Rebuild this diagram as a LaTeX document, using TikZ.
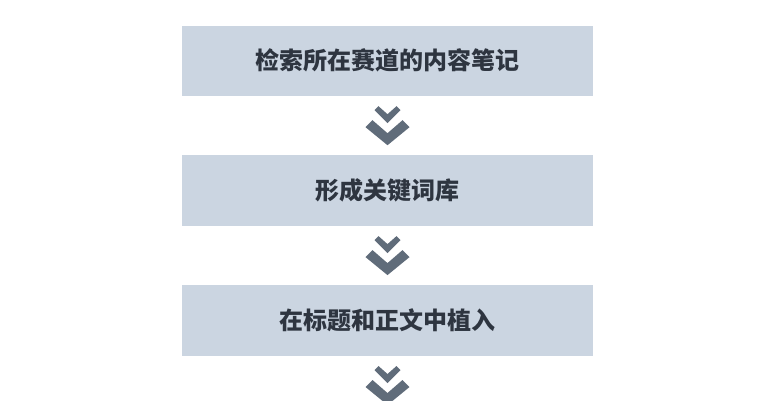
\documentclass[tikz,border=0pt]{standalone}
\usepackage{fontspec}
\newfontfamily\cjk{Noto Sans CJK SC}
\usetikzlibrary{positioning}
\definecolor{boxfill}{RGB}{203,213,225}
\definecolor{chevgray}{RGB}{96,108,122}
\definecolor{textdark}{RGB}{46,53,64}
\tikzset{
  stepbox/.style={fill=boxfill, minimum width=411bp, minimum height=70.5bp, inner sep=0pt,
    text=textdark, font=\cjk\bfseries\fontsize{24bp}{28bp}\selectfont},
  chevron/.pic={
    \fill[chevgray] (-13,-15.5) -- (-9,-19.5) -- (0,-11.5) -- (9,-19.5) -- (13,-15.5) -- (0,-2.5) -- cycle;
    \fill[chevgray] (-22,1.5) -- (-15,-5.5) -- (0,7.5) -- (15,-5.5) -- (22,1.5) -- (0,19.5) -- cycle;
  }
}
\begin{document}
\begin{tikzpicture}[x=1bp, y=-1bp]
  \useasboundingbox[fill=white] (0,0) rectangle (776,400);
  \node[stepbox] (b1) at (387.5,60.75) {检索所在赛道的内容笔记};
  \node[stepbox, below=59bp of b1] (b2) {形成关键词库};
  \node[stepbox, below=59bp of b2] (b3) {在标题和正文中植入};
  \path (b1.south) -- (b2.north) coordinate[midway] (c1);
  \path (b2.south) -- (b3.north) coordinate[midway] (c2);
  \coordinate[below=29.5bp of b3.south] (c3);
  \pic at (c1) {chevron};
  \pic at (c2) {chevron};
  \pic at (c3) {chevron};
\end{tikzpicture}
\end{document}
